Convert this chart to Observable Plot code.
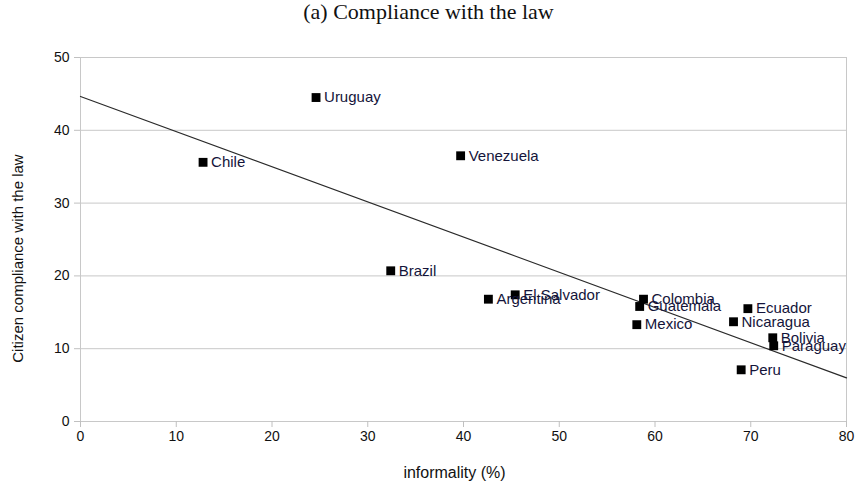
<!DOCTYPE html>
<html>
<head>
<meta charset="utf-8">
<script src="https://cdn.jsdelivr.net/npm/d3@7"></script>
<script src="https://cdn.jsdelivr.net/npm/@observablehq/plot@0.6"></script>
<style>
  html, body { margin: 0; padding: 0; background: #fff; }
  #title { height: 26px; line-height: 23px; text-align: center; font-family: "Liberation Serif", "DejaVu Serif", serif; font-size: 22px; color: #111; }
  svg { display: block; overflow: visible; }
</style>
</head>
<body>
<div id="title">(a) Compliance with the law</div>
<div id="chart"></div>
<script>
const countries = ["Uruguay","Chile","Venezuela","Brazil","Argentina","El Salvador","Colombia","Guatemala","Mexico","Ecuador","Nicaragua","Bolivia","Paraguay","Peru"];
const informality = [24.6, 12.8, 39.7, 32.4, 42.6, 45.4, 58.8, 58.4, 58.1, 69.7, 68.2, 72.3, 72.4, 69.0];
const compliance = [44.5, 35.6, 36.5, 20.7, 16.8, 17.4, 16.8, 15.8, 13.3, 15.5, 13.7, 11.5, 10.4, 7.1];
const trendX = [0, 80];
const trendY = [44.65, 6.0];
const xTicks = [0, 10, 20, 30, 40, 50, 60, 70, 80];
const yTicks = [0, 10, 20, 30, 40, 50];
const xLabel = "informality (%)";
const yLabel = "Citizen compliance with the law";

const points = countries.map((c, i) => ({country: c, x: informality[i], y: compliance[i]}));
const trend = trendX.map((x, i) => ({x, y: trendY[i]}));

const chart = Plot.plot({
  width: 857,
  height: 468,
  marginLeft: 80,
  marginRight: 11,
  marginTop: 31,
  marginBottom: 73,
  style: {fontFamily: "'Liberation Sans', Arial, sans-serif", fontSize: "14px", color: "#111", background: "#fff"},
  x: {domain: [0, 80]},
  y: {domain: [0, 50]},
  marks: [
    Plot.gridY(yTicks, {stroke: "#c8c8c8", strokeOpacity: 1, strokeWidth: 1}),
    Plot.ruleX([0, 80], {stroke: "#c8c8c8", strokeWidth: 1}),
    Plot.axisX(xTicks, {tickSize: 6, tickPadding: 4, stroke: "#c0c0c0", fill: "#111", fontSize: 14, label: null, tickFormat: d => d}),
    Plot.axisY(yTicks, {tickSize: 6, tickPadding: 5, stroke: "#c0c0c0", fill: "#111", fontSize: 14, label: null, tickFormat: d => d}),
    Plot.line(trend, {x: "x", y: "y", stroke: "#2a2a2a", strokeWidth: 1.2}),
    Plot.dot(points, {x: "x", y: "y", symbol: "square", r: 5, fill: "#000", stroke: "none"}),
    Plot.text(points, {x: "x", y: "y", text: "country", dx: 8, textAnchor: "start", fill: "#14143a", fontSize: 15}),
    Plot.text([xLabel], {frameAnchor: "bottom", dx: -9, dy: 56, fontSize: 16, fill: "#111"}),
    Plot.text([yLabel], {frameAnchor: "left", textAnchor: "middle", dx: -62, dy: 19, rotate: -90, fontSize: 15, fill: "#111"})
  ]
});
document.getElementById("chart").appendChild(chart);
</script>
</body>
</html>
